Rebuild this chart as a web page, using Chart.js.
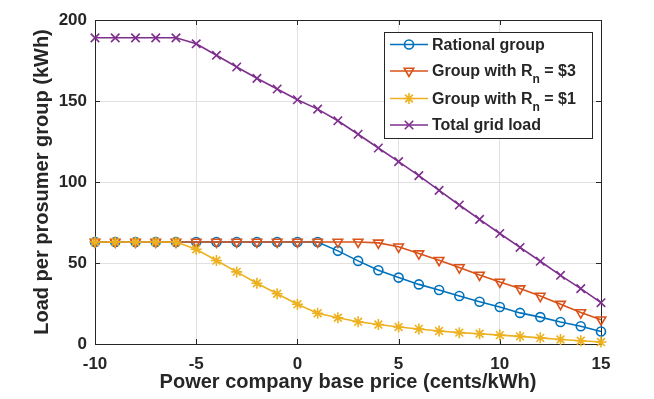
<!DOCTYPE html>
<html>
<head>
<meta charset="utf-8">
<script src="https://cdn.jsdelivr.net/npm/chart.js@4/dist/chart.umd.min.js"></script>
<style>
  html, body { margin: 0; padding: 0; background: #fff; }
  #wrap { width: 654px; height: 399px; }
</style>
</head>
<body>
<div id="wrap"><canvas id="loadChart" width="654" height="399"></canvas></div>
<script>
// base price (cents/kWh)
const basePrice = [-10, -9, -8, -7, -6, -5, -4, -3, -2, -1, 0, 1, 2, 3, 4, 5, 6, 7, 8, 9, 10, 11, 12, 13, 14, 15];

// load per group (kWh)
const rationalLoad = [63, 63, 63, 63, 63, 63, 63, 63, 63, 63, 63, 63, 57.5, 51.3, 45.5, 41, 36.8, 33.3, 29.6, 26.1, 22.8, 19.2, 16.6, 13.6, 11, 7.7];
const rn3Load = [63, 63, 63, 63, 63, 63, 63, 63, 63, 63, 63, 63, 63, 63, 62.4, 60, 55.8, 51.7, 47.2, 42.6, 38.3, 34.2, 29.6, 24.6, 19.4, 15];
const rn1Load = [63, 63, 63, 63, 63, 58.5, 51.5, 44.5, 37.5, 31, 24.5, 19, 16.2, 13.7, 12, 10.5, 9.3, 8, 7, 6.3, 5.5, 4.7, 3.8, 2.8, 2, 1.2];
const totalLoad = [189, 189, 189, 189, 189, 185.3, 178.2, 171, 164, 157.4, 150.8, 145, 137.8, 129.5, 121, 112.6, 103.9, 94.8, 85.8, 76.9, 68.2, 59.6, 51.1, 42.4, 34.2, 25.5];

const legendLabels = ["Rational group", "Group with R_n = $3", "Group with R_n = $1", "Total grid load"];
const xTitle = "Power company base price (cents/kWh)";
const yTitle = "Load per prosumer group (kWh)";

const axisColor = "#262626";
const gridColor = "#e1e1e1";
const fontFamily = "'Liberation Sans', Arial, Helvetica, sans-serif";

function toPoints(values) {
  return basePrice.map((x, i) => ({ x: x, y: values[i] }));
}

function makeSeries(label, values, color, style, radius, rotation, order) {
  return {
    label: label,
    data: toPoints(values),
    borderColor: color,
    backgroundColor: color,
    borderWidth: 1.6,
    pointStyle: style,
    pointRadius: radius,
    pointRotation: rotation,
    pointBorderColor: color,
    pointBackgroundColor: "rgba(0,0,0,0)",
    pointBorderWidth: 1.6,
    tension: 0,
    clip: false,
    order: order
  };
}

// box around the plot with inward ticks
const boxPlugin = {
  id: "boxPlugin",
  beforeDatasetsDraw(chart) {
    const { ctx, chartArea: a, scales } = chart;
    ctx.save();
    ctx.strokeStyle = axisColor;
    ctx.lineWidth = 1;
    ctx.strokeRect(a.left + 0.5, a.top + 0.5, a.right - a.left, a.bottom - a.top);
    ctx.beginPath();
    scales.x.ticks.forEach(t => {
      const px = Math.round(scales.x.getPixelForValue(t.value)) + 0.5;
      ctx.moveTo(px, a.bottom); ctx.lineTo(px, a.bottom - 5);
      ctx.moveTo(px, a.top); ctx.lineTo(px, a.top + 5);
    });
    scales.y.ticks.forEach(t => {
      const py = Math.round(scales.y.getPixelForValue(t.value)) + 0.5;
      ctx.moveTo(a.left, py); ctx.lineTo(a.left + 5, py);
      ctx.moveTo(a.right, py); ctx.lineTo(a.right - 5, py);
    });
    ctx.stroke();
    ctx.restore();
  }
};

// MATLAB-like legend with subscripts
const legendPlugin = {
  id: "matLegend",
  afterDatasetsDraw(chart) {
    const { ctx } = chart;
    const boxX = 384, boxY = 32, boxW = 208, boxH = 106;
    const rowY = [44.5, 71, 98.5, 125];
    ctx.save();
    ctx.fillStyle = "#fff";
    ctx.fillRect(boxX, boxY, boxW, boxH);
    ctx.strokeStyle = axisColor;
    ctx.lineWidth = 1;
    ctx.strokeRect(boxX + 0.5, boxY + 0.5, boxW, boxH);

    chart.data.datasets.forEach((ds, i) => {
      const y = rowY[i];
      ctx.strokeStyle = ds.borderColor;
      ctx.lineWidth = ds.borderWidth;
      ctx.beginPath();
      ctx.moveTo(390, y);
      ctx.lineTo(428, y);
      ctx.stroke();
      ctx.fillStyle = "rgba(0,0,0,0)";
      Chart.helpers.drawPoint(ctx, {
        pointStyle: ds.pointStyle,
        radius: ds.pointRadius,
        rotation: ds.pointRotation,
        borderWidth: ds.pointBorderWidth
      }, 409, y);

      ctx.fillStyle = axisColor;
      ctx.textBaseline = "middle";
      ctx.textAlign = "left";
      const parts = legendLabels[i].split("_n");
      let tx = 432;
      ctx.font = "bold 16px " + fontFamily;
      ctx.fillText(parts[0], tx, y + 1);
      tx += ctx.measureText(parts[0]).width;
      if (parts.length > 1) {
        ctx.font = "bold 12px " + fontFamily;
        ctx.fillText("n", tx, y + 9);
        tx += ctx.measureText("n").width;
        ctx.font = "bold 16px " + fontFamily;
        ctx.fillText(parts[1], tx, y + 1);
      }
    });
    ctx.restore();
  }
};

const ctx = document.getElementById("loadChart").getContext("2d");
new Chart(ctx, {
  type: "line",
  data: {
    datasets: [
      makeSeries(legendLabels[0], rationalLoad, "#0072BD", "circle", 4.5, 0, 3),
      makeSeries(legendLabels[1], rn3Load, "#D95319", "triangle", 5.5, 180, 2),
      makeSeries(legendLabels[2], rn1Load, "#EDB120", "star", 5.5, 0, 1),
      makeSeries(legendLabels[3], totalLoad, "#7E2F8E", "crossRot", 6, 0, 0)
    ]
  },
  options: {
    responsive: false,
    animation: false,
    layout: { padding: { left: 0, right: 53, top: 20, bottom: 0 } },
    plugins: {
      legend: { display: false },
      tooltip: { enabled: false }
    },
    scales: {
      x: {
        type: "linear",
        min: -10,
        max: 15,
        afterFit: scale => { scale.height = 55; },
        ticks: {
          stepSize: 5,
          color: axisColor,
          padding: 10,
          font: { family: fontFamily, size: 17, weight: "bold" }
        },
        grid: { color: gridColor, drawTicks: false },
        border: { display: false },
        title: {
          display: true,
          text: xTitle,
          color: axisColor,
          padding: { top: 0, bottom: 5 },
          font: { family: fontFamily, size: 20, weight: "bold" }
        }
      },
      y: {
        min: 0,
        max: 200,
        afterFit: scale => { scale.width = 95; },
        ticks: {
          stepSize: 50,
          color: axisColor,
          padding: 8,
          font: { family: fontFamily, size: 17, weight: "bold" }
        },
        grid: { color: gridColor, drawTicks: false },
        border: { display: false },
        title: {
          display: true,
          text: yTitle,
          color: axisColor,
          padding: { top: 30, bottom: 0 },
          font: { family: fontFamily, size: 20, weight: "bold" }
        }
      }
    }
  },
  plugins: [boxPlugin, legendPlugin]
});
</script>
</body>
</html>
